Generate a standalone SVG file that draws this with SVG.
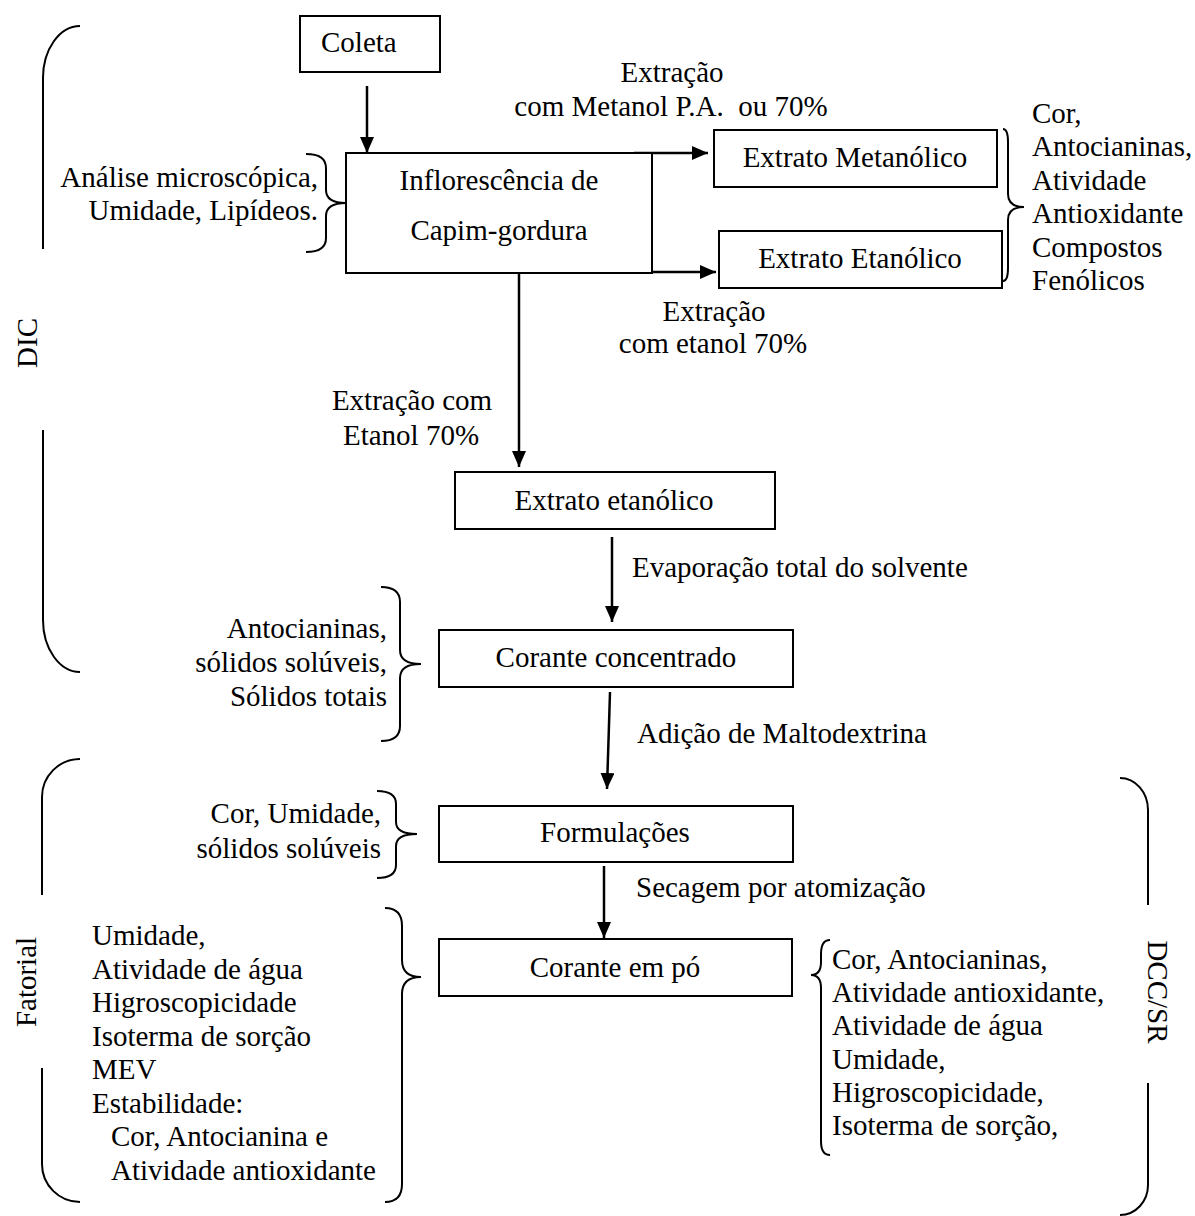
<svg xmlns="http://www.w3.org/2000/svg" width="1195" height="1216" viewBox="0 0 1195 1216">
<defs>
<marker id="ah" markerUnits="userSpaceOnUse" markerWidth="16" markerHeight="14" refX="16" refY="7" orient="auto">
<path d="M0,0 L16,7 L0,14 z" fill="#000"/>
</marker>
</defs>
<style>
text{font-family:"Liberation Serif","Times New Roman",serif;font-size:29px;fill:#000}
.c{text-anchor:middle}
.r{text-anchor:end}
.box{fill:#fff;stroke:#000;stroke-width:2}
.conn{stroke:#000;stroke-width:2.5;fill:none;marker-end:url(#ah)}
.br{stroke:#000;stroke-width:2;fill:none}
</style>
<rect width="1195" height="1216" fill="#fff"/>

<g id="connectors">
<path class="conn" d="M367,86 L367,153"/>
<path class="conn" d="M634,153 L708,153"/>
<path class="conn" d="M634,272 L716,272"/>
<path class="conn" d="M519,273 L519,467"/>
<path class="conn" d="M612,537 L612,622"/>
<path class="conn" d="M610,692 L607,789"/>
<path class="conn" d="M604,866 L604,938"/>
</g>

<g id="coleta">
<rect class="box" x="300" y="16" width="140" height="56"/>
<text x="321" y="52">Coleta</text>
</g>

<g id="inflorescencia">
<rect class="box" x="346" y="153" width="306" height="120"/>
<text class="c" x="499" y="190">Inflorescência de</text>
<text class="c" x="499" y="240">Capim-gordura</text>
</g>

<g id="extrato-metanolico">
<rect class="box" x="714" y="130" width="283" height="57"/>
<text class="c" x="855" y="167">Extrato Metanólico</text>
</g>

<g id="extrato-etanolico-dir">
<rect class="box" x="719" y="231" width="283" height="57"/>
<text class="c" x="860" y="268">Extrato Etanólico</text>
</g>

<g id="extrato-etanolico">
<rect class="box" x="455" y="472" width="320" height="57"/>
<text class="c" x="614" y="510">Extrato etanólico</text>
</g>

<g id="corante-concentrado">
<rect class="box" x="439" y="630" width="354" height="57"/>
<text class="c" x="616" y="667">Corante concentrado</text>
</g>

<g id="formulacoes">
<rect class="box" x="439" y="806" width="354" height="56"/>
<text class="c" x="615" y="842">Formulações</text>
</g>

<g id="corante-po">
<rect class="box" x="439" y="939" width="353" height="57"/>
<text class="c" x="615" y="977">Corante em pó</text>
</g>

<g id="labels">
<text class="c" x="672" y="82">Extração</text>
<text class="c" x="671" y="116" xml:space="preserve" style="white-space:pre">com Metanol P.A.  ou 70%</text>
<text class="c" x="714" y="321">Extração</text>
<text class="c" x="713" y="353">com etanol 70%</text>
<text class="c" x="412" y="410">Extração com</text>
<text class="c" x="411" y="445">Etanol 70%</text>
<text x="632" y="577">Evaporação total do solvente</text>
<text x="637" y="743">Adição de Maltodextrina</text>
<text x="636" y="897">Secagem por atomização</text>
</g>

<g id="analise-inflorescencia">
<text class="r" x="318" y="187">Análise microscópica,</text>
<text class="r" x="318" y="220">Umidade, Lipídeos.</text>
<path class="br" d="M306,154 Q326,154 326,168 L326,190 Q326,203 346,203 Q326,203 326,216 L326,238 Q326,252 306,252"/>
</g>

<g id="analise-extratos">
<path class="br" d="M1003,129 Q1008,129 1008,142 L1008,194 Q1008,207 1024,207 Q1008,207 1008,220 L1008,268 Q1008,281 1003,281"/>
<text x="1032" y="123">Cor,</text>
<text x="1032" y="156">Antocianinas,</text>
<text x="1032" y="190">Atividade</text>
<text x="1032" y="223">Antioxidante</text>
<text x="1032" y="257">Compostos</text>
<text x="1032" y="290">Fenólicos</text>
</g>

<g id="analise-concentrado">
<text class="r" x="387" y="638">Antocianinas,</text>
<text class="r" x="387" y="672">sólidos solúveis,</text>
<text class="r" x="387" y="706">Sólidos totais</text>
<path class="br" d="M381,587 Q400,587 400,602 L400,650 Q400,664 421,664 Q400,664 400,678 L400,726 Q400,741 381,741"/>
</g>

<g id="analise-formulacoes">
<text class="r" x="381" y="823">Cor, Umidade,</text>
<text class="r" x="381" y="858">sólidos solúveis</text>
<path class="br" d="M377,791 Q396,791 396,804 L396,822 Q396,834 417,834 Q396,834 396,846 L396,865 Q396,878 377,878"/>
</g>

<g id="analise-fatorial">
<text x="92" y="945">Umidade,</text>
<text x="92" y="979">Atividade de água</text>
<text x="92" y="1012">Higroscopicidade</text>
<text x="92" y="1046">Isoterma de sorção</text>
<text x="92" y="1079">MEV</text>
<text x="92" y="1113">Estabilidade:</text>
<text x="111" y="1146">Cor, Antocianina e</text>
<text x="111" y="1180">Atividade antioxidante</text>
<path class="br" d="M385,908 Q402,908 402,926 L402,960 Q402,977 421,977 Q402,977 402,994 L402,1184 Q402,1202 385,1202"/>
</g>

<g id="analise-dcc">
<path class="br" d="M830,940 Q821,940 821,954 L821,962 Q821,975 811,975 Q821,975 821,988 L821,1141 Q821,1155 830,1155"/>
<text x="832" y="969">Cor, Antocianinas,</text>
<text x="832" y="1002">Atividade antioxidante,</text>
<text x="832" y="1035">Atividade de água</text>
<text x="832" y="1069">Umidade,</text>
<text x="832" y="1102">Higroscopicidade,</text>
<text x="832" y="1135">Isoterma de sorção,</text>
</g>

<g id="dic">
<path class="br" d="M80,26 A37,52 0 0 0 43,78 L43,249"/>
<path class="br" d="M43,430 L43,620 A37,52 0 0 0 80,672"/>
<text class="c" transform="translate(37,343) rotate(-90)">DIC</text>
</g>

<g id="fatorial">
<path class="br" d="M80,759 A38,38 0 0 0 42,797 L42,895"/>
<path class="br" d="M42,1068 L42,1164 A38,38 0 0 0 80,1202"/>
<text class="c" transform="translate(36,982) rotate(-90)">Fatorial</text>
</g>

<g id="dcc-sr">
<path class="br" d="M1120,778 A28,32 0 0 1 1148,810 L1148,905"/>
<path class="br" d="M1148,1083 L1148,1185 A28,30 0 0 1 1120,1215"/>
<text class="c" transform="translate(1148,992) rotate(90)">DCC/SR</text>
</g>
</svg>
